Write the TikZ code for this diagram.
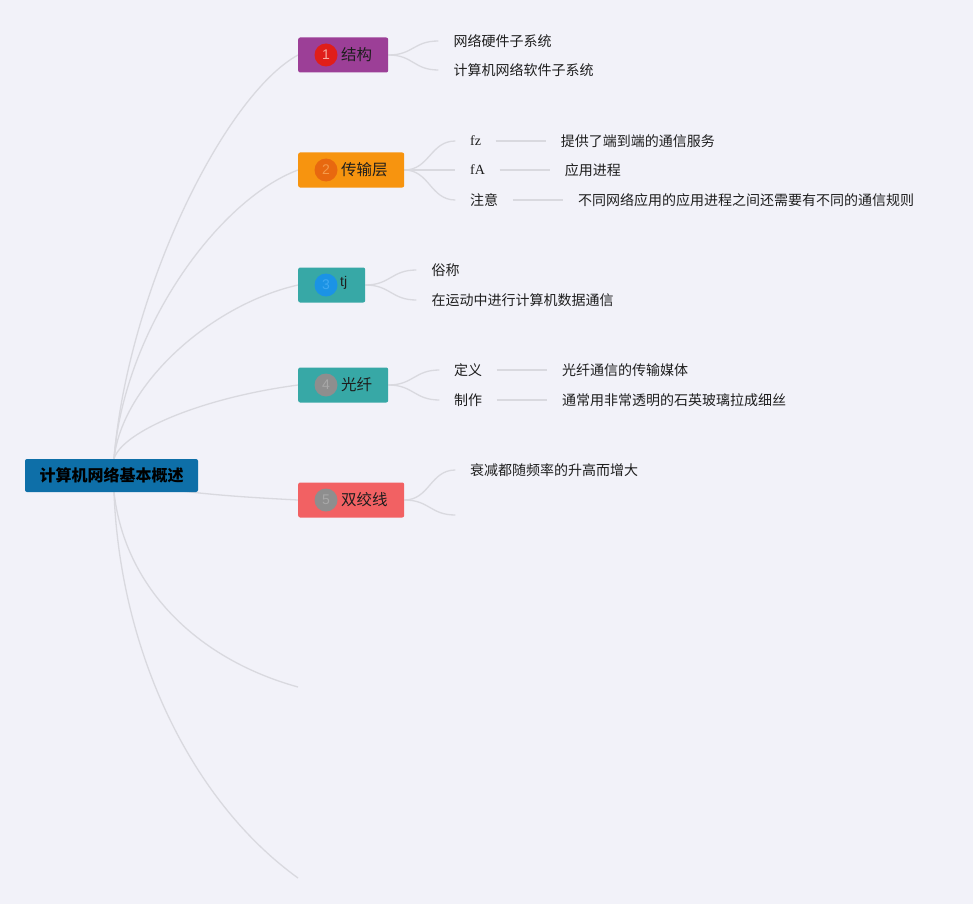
\documentclass[tikz,border=0pt]{standalone}
\usepackage{fontspec}
\setmainfont{Noto Sans CJK SC}
\newfontfamily\serifl{Liberation Serif}
\newfontfamily\sansl{Liberation Sans}
\usetikzlibrary{positioning}
\pgfdeclarelayer{bg}
\pgfdeclarelayer{edges}
\pgfsetlayers{bg,edges,main}
\definecolor{bgc}{HTML}{F2F2F9}
\definecolor{rootc}{HTML}{0E6FA8}
\definecolor{purp}{HTML}{9C3F97}
\definecolor{oran}{HTML}{F7940F}
\definecolor{teal2}{HTML}{37A8A6}
\definecolor{pink2}{HTML}{F26163}
\definecolor{cA}{HTML}{E01E1A}\definecolor{dA}{HTML}{F6A8A0}
\definecolor{cB}{HTML}{E8680F}\definecolor{dB}{HTML}{F59A4A}
\definecolor{cC}{HTML}{1B93E5}\definecolor{dC}{HTML}{3FA8F0}
\definecolor{cD}{HTML}{8E8E8E}\definecolor{dD}{HTML}{A8A8A8}
\definecolor{linec}{HTML}{D9D9DF}
\definecolor{txt}{HTML}{1E1E1E}
\tikzset{
  rootbox/.style={rectangle, rounded corners=2pt, fill=rootc, minimum width=173pt, minimum height=33pt, inner sep=0pt, font=\fontsize{16}{18}\selectfont\bfseries, text=black},
  mainbox/.style={rectangle, rounded corners=2pt, minimum height=35pt, inner sep=0pt, anchor=west},
  numc/.style={circle, minimum size=23pt, inner sep=0pt, font=\fontsize{14}{15}\selectfont\sansl},
  maintext/.style={anchor=west, inner sep=0pt, font=\fontsize{15.5}{17}\selectfont, text=txt},
  child/.style={anchor=west, inner xsep=15pt, inner ysep=2pt, font=\fontsize{14}{16}\selectfont, text=txt},
  label/.style={anchor=west, inner xsep=14.5pt, inner ysep=2pt, font=\fontsize{14}{16}\selectfont, text=txt},
  detail/.style={inner xsep=15pt, inner ysep=2pt, font=\fontsize{14}{16}\selectfont, text=txt},
  conn/.style={draw=linec, line width=1.3pt},
}
\begin{document}
\begin{tikzpicture}[x=1pt,y=-1pt]
\begin{pgfonlayer}{bg}
\fill[bgc] (0,0) rectangle (973,904);
\end{pgfonlayer}
\useasboundingbox (0,0) rectangle (973,904);

% root
\node[rootbox] (root) at (111.5,475.5) {计算机网络基本概述};

% main nodes
\node[mainbox, fill=purp, minimum width=90pt] (n1) at (298,55) {};
\node[numc, fill=cA, text=dA] (k1) at (326,55) {1};
\node[maintext] (t1) at (341,55) {结构};

\node[mainbox, fill=oran, minimum width=106pt] (n2) at (298,170) {};
\node[numc, fill=cB, text=dB] (k2) at (326,170) {2};
\node[maintext] (t2) at (341,170) {传输层};

\node[mainbox, fill=teal2, minimum width=67pt] (n3) at (298,285) {};
\node[numc, fill=cC, text=dC] (k3) at (326,285) {3};
\node[maintext, font=\fontsize{14}{16}\selectfont\sansl] (t3) at (340,283) {tj};

\node[mainbox, fill=teal2, minimum width=90pt] (n4) at (298,385) {};
\node[numc, fill=cD, text=dD] (k4) at (326,385) {4};
\node[maintext] (t4) at (341,385) {光纤};

\node[mainbox, fill=pink2, minimum width=106pt] (n5) at (298,500) {};
\node[numc, fill=cD, text=dD] (k5) at (326,500) {5};
\node[maintext] (t5) at (341,500) {双绞线};

\coordinate (e6) at (298,687);
\coordinate (e7) at (298,878);

% children
\node[child] (a1) at ([shift={(50,-14)}]n1.east) {网络硬件子系统};
\node[child] (a2) at ([shift={(50,15)}]n1.east) {计算机网络软件子系统};

\node[label, font=\fontsize{14}{16}\selectfont\serifl] (b1) at ([shift={(51,-29)}]n2.east) {fz};
\node[label, font=\fontsize{14}{16}\selectfont\serifl] (b2) at ([shift={(51,0)}]n2.east) {fA};
\node[label] (b3) at ([shift={(51,30)}]n2.east) {注意};
\node[detail, right=50pt of b1] (b1d) {提供了端到端的通信服务};
\node[detail, right=50pt of b2] (b2d) {应用进程};
\node[detail, right=50pt of b3] (b3d) {不同网络应用的应用进程之间还需要有不同的通信规则};

\node[child] (c1) at ([shift={(51,-15)}]n3.east) {俗称};
\node[child] (c2) at ([shift={(51,15)}]n3.east) {在运动中进行计算机数据通信};

\node[label] (d1) at ([shift={(51,-15)}]n4.east) {定义};
\node[label] (d2) at ([shift={(51,15)}]n4.east) {制作};
\node[detail, right=50pt of d1] (d1d) {光纤通信的传输媒体};
\node[detail, right=50pt of d2] (d2d) {通常用非常透明的石英玻璃拉成细丝};

\node[label] (f1) at ([shift={(51,-30)}]n5.east) {衰减都随频率的升高而增大};
\coordinate (f2) at ([shift={(51,15)}]n5.east);

% connectors
\begin{pgfonlayer}{edges}
\draw[conn] ([xshift=2.5pt]root.north) .. controls (128,290) and (225,95) .. (n1.west);
\draw[conn] ([xshift=2.5pt]root.north) .. controls (124,330) and (218,200) .. (n2.west);
\draw[conn] ([xshift=2.5pt]root.north) .. controls (122,385) and (210,305) .. (n3.west);
\draw[conn] ([xshift=2.5pt]root.north) .. controls (122,432) and (200,398) .. (n4.west);
\draw[conn] ([xshift=2.5pt]root.center) .. controls (150,492) and (240,497) .. (n5.west);
\draw[conn] ([xshift=2.5pt]root.south) .. controls (125,590) and (200,660) .. (e6);
\draw[conn] ([xshift=2.5pt]root.south) .. controls (120,650) and (190,800) .. (e7);

\foreach \s/\t in {n1/a1,n1/a2,n2/b1,n2/b2,n2/b3,n3/c1,n3/c2,n4/d1,n4/d2,n5/f1}
  \draw[conn] (\s.east) .. controls +(25,0) and +(-25,0) .. (\t.west);
\draw[conn] (n5.east) .. controls +(25,0) and +(-25,0) .. (f2);

\foreach \s/\t in {b1/b1d,b2/b2d,b3/b3d,d1/d1d,d2/d2d}
  \draw[conn] (\s.east) -- (\t.west);
\end{pgfonlayer}
\end{tikzpicture}
\end{document}
